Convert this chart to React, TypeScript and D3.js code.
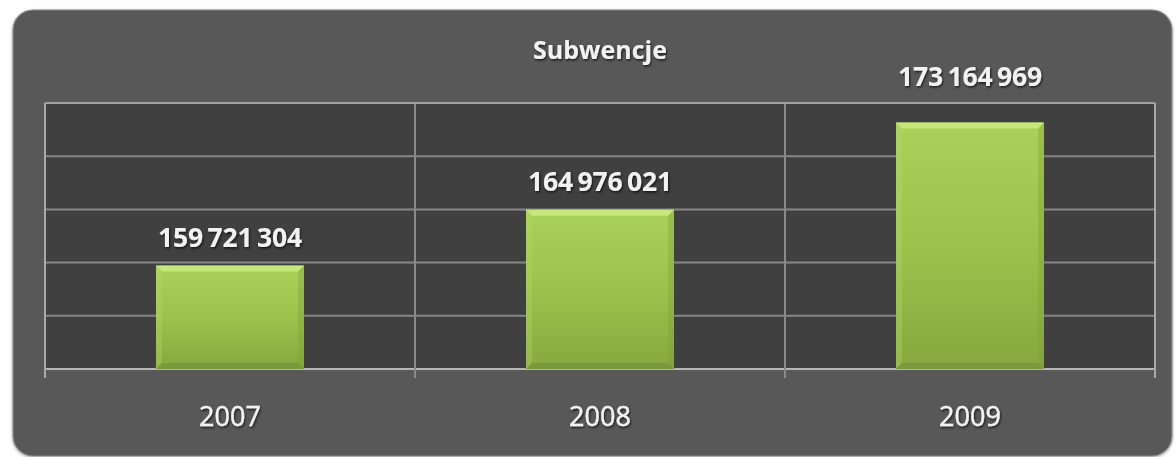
import React from "react";
import * as d3 from "d3";

const categories = ["2007", "2008", "2009"];
const values = [159721304, 164976021, 173164969];
const labels = ["159 721 304", "164 976 021", "173 164 969"];
const yTicks = [150e6, 155e6, 160e6, 165e6, 170e6, 175e6];
const title = "Subwencje";

const W = 1176;
const H = 457;
const plot = { left: 45, right: 1155, top: 103, bottom: 369 };

export default function App() {
  const x = d3
    .scaleBand<string>()
    .domain(categories)
    .range([plot.left, plot.right])
    .paddingInner(0.6)
    .paddingOuter(0.3);
  const xEdge = d3
    .scaleBand<string>()
    .domain(categories)
    .range([plot.left, plot.right])
    .padding(0);
  const y = d3
    .scaleLinear()
    .domain([150e6, 175e6])
    .range([plot.bottom, plot.top]);

  const font = "'Open Sans', 'DejaVu Sans', sans-serif";
  const bw = x.bandwidth();
  const bev = 6;

  const separators = [plot.left, ...categories.slice(1).map((c) => xEdge(c)!), plot.right];

  return (
    <svg
      width={W}
      height={H}
      style={{ position: "absolute", left: 0, top: 0 }}
      fontFamily={font}
    >
      <defs>
        <linearGradient id="barGrad" x1="0" y1="0" x2="0" y2="1">
          <stop offset="0" stopColor="#a9d25a" />
          <stop offset="0.5" stopColor="#9cc24c" />
          <stop offset="1" stopColor="#86a83f" />
        </linearGradient>
        <filter id="txtShadow" x="-10%" y="-30%" width="120%" height="160%">
          <feDropShadow dx="1" dy="1.5" stdDeviation="1.2" floodColor="#000" floodOpacity="0.7" />
        </filter>
        <filter id="boxShadow" x="-5%" y="-5%" width="110%" height="110%">
          <feDropShadow dx="0" dy="1" stdDeviation="1.5" floodColor="#000" floodOpacity="0.35" />
        </filter>
      </defs>
      <rect x={0} y={0} width={W} height={H} fill="#ffffff" />
      <rect
        x={13}
        y={10}
        width={1159}
        height={446}
        rx={20}
        ry={20}
        fill="#595959"
        stroke="#8a8a8a"
        strokeWidth={1.2}
        filter="url(#boxShadow)"
      />
      <rect
        x={plot.left}
        y={plot.top}
        width={plot.right - plot.left}
        height={plot.bottom - plot.top}
        fill="#404040"
      />
      {yTicks.map((t) => (
        <line
          key={t}
          x1={plot.left}
          x2={plot.right}
          y1={y(t)}
          y2={y(t)}
          stroke={t === 150e6 ? "#b5b5b5" : "#858585"}
          strokeWidth={2}
        />
      ))}
      {separators.map((sx, i) => (
        <line
          key={i}
          x1={sx}
          x2={sx}
          y1={plot.top}
          y2={plot.bottom + 9}
          stroke={i === 0 || i === separators.length - 1 ? "#a8a8a8" : "#8a8a8a"}
          strokeWidth={2}
        />
      ))}
      <line
        x1={plot.left}
        x2={plot.right}
        y1={plot.top}
        y2={plot.top}
        stroke="#a0a0a0"
        strokeWidth={2}
      />
      {categories.map((c, i) => {
        const bx = x(c)!;
        const by = y(values[i]);
        const bb = y(150e6);
        const h = bb - by;
        return (
          <g key={c}>
            <rect x={bx} y={by} width={bw} height={h} fill="url(#barGrad)" />
            <polygon
              points={`${bx},${by} ${bx + bw},${by} ${bx + bw - bev},${by + bev} ${bx + bev},${by + bev}`}
              fill="#c8ea80"
              opacity={0.9}
            />
            <polygon
              points={`${bx},${by} ${bx + bev},${by + bev} ${bx + bev},${bb - bev} ${bx},${bb}`}
              fill="#b4d86a"
              opacity={0.35}
            />
            <polygon
              points={`${bx + bw},${by} ${bx + bw - bev},${by + bev} ${bx + bw - bev},${bb - bev} ${bx + bw},${bb}`}
              fill="#7e9f38"
              opacity={0.35}
            />
            <polygon
              points={`${bx},${bb} ${bx + bev},${bb - bev} ${bx + bw - bev},${bb - bev} ${bx + bw},${bb}`}
              fill="#74943a"
              opacity={0.7}
            />
          </g>
        );
      })}
      {categories.map((c, i) => {
        const cx = x(c)! + bw / 2;
        const natural = y(values[i]) - 19;
        const ly = natural - 20 < plot.top ? plot.top - 17 : natural;
        return (
          <text
            key={c}
            x={cx}
            y={ly}
            textAnchor="middle"
            fontSize={26.5}
            fontWeight={700}
            fill="#f2f2f2"
            letterSpacing={-0.2}
            wordSpacing={-2}
            filter="url(#txtShadow)"
          >
            {labels[i]}
          </text>
        );
      })}
      {categories.map((c) => (
        <text
          key={c}
          x={x(c)! + bw / 2}
          y={426}
          textAnchor="middle"
          fontSize={27}
          fontWeight={400}
          fill="#f2f2f2"
          stroke="#f2f2f2"
          strokeWidth={0.4}
          filter="url(#txtShadow)"
        >
          {c}
        </text>
      ))}
      <text
        x={600}
        y={59}
        textAnchor="middle"
        fontSize={25}
        fontWeight={700}
        fill="#f2f2f2"
        filter="url(#txtShadow)"
      >
        {title}
      </text>
    </svg>
  );
}
